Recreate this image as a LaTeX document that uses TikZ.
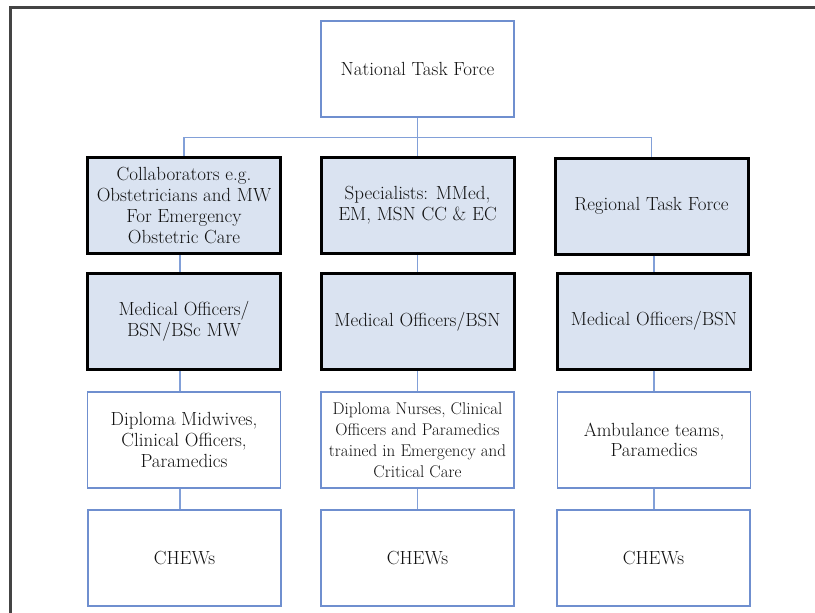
\documentclass[tikz,border=0pt]{standalone}
\definecolor{boxfill}{HTML}{DAE3F1}
\definecolor{boxline}{HTML}{6F8FCF}
\definecolor{connline}{HTML}{82A0D8}
\definecolor{txt}{HTML}{111111}
\definecolor{frameline}{HTML}{444444}
\begin{document}
\begin{tikzpicture}[x=1pt,y=-1pt,
  base/.style={rectangle, inner sep=0pt, minimum width=193pt, minimum height=96pt,
    align=center, text=txt, font=\fontsize{19}{20.7}\selectfont},
  plainbox/.style={base, draw=boxline, line width=1.4pt, fill=white},
  thickbox/.style={base, draw=black, line width=3pt, fill=boxfill},
  conn/.style={draw=connline, line width=1.8pt}]
\useasboundingbox (0,0) rectangle (815,613);
% page frame
\draw[frameline, line width=2.5pt] (10.5,613) -- (10.5,7.5) -- (815,7.5);
% nodes
\node[plainbox] (ntf) at (417.5,69) {National Task Force};
\node[thickbox] (r1l) at (184,205.5) {Collaborators e.g.\\Obstetricians and MW\\For Emergency\\Obstetric Care};
\node[thickbox] (r1m) at (417.5,205.5) {Specialists: MMed,\\EM, MSN CC \& EC};
\node[thickbox] (r1r) at (651.5,206) {Regional Task Force};
\node[thickbox] (r2l) at (184,321.5) {Medical Officers/\\BSN/BSc MW};
\node[thickbox] (r2m) at (417.5,321.5) {Medical Officers/BSN};
\node[thickbox] (r2r) at (654,321) {Medical Officers/BSN};
\node[plainbox] (r3l) at (184,440) {Diploma Midwives,\\Clinical Officers,\\Paramedics};
\node[plainbox, font=\fontsize{17}{21}\selectfont] (r3m) at (417.5,440) {Diploma Nurses, Clinical\\Officers and Paramedics\\trained in Emergency and\\Critical Care};
\node[plainbox] (r3r) at (654,440) {Ambulance teams,\\Paramedics};
\node[plainbox] (r4l) at (184.5,558) {CHEWs};
\node[plainbox] (r4m) at (417.5,558) {CHEWs};
\node[plainbox] (r4r) at (653.5,558) {CHEWs};
% connectors
\coordinate (bar) at (417.5,137.5);
\draw[conn] (ntf.south) -- (bar);
\draw[conn] (r1l.north) -- (r1l.north |- bar) -- (r1r.north |- bar) -- (r1r.north);
\draw[conn] (bar) -- (r1m.north);
\draw[conn] ([xshift=-4pt]r1l.south) -- ([xshift=-4pt]r2l.north);
\draw[conn] ([xshift=-4pt]r2l.south) -- ([xshift=-4pt]r3l.north);
\draw[conn] ([xshift=-4pt]r3l.south) -- ([xshift=-4.5pt]r4l.north);
\draw[conn] (r1m.south) -- (r2m.north);
\draw[conn] (r2m.south) -- (r3m.north);
\draw[conn] (r3m.south) -- (r4m.north);
\draw[conn] ([xshift=2.5pt]r1r.south) -- (r2r.north);
\draw[conn] (r2r.south) -- (r3r.north);
\draw[conn] (r3r.south) -- ([xshift=0.5pt]r4r.north);
\end{tikzpicture}
\end{document}
